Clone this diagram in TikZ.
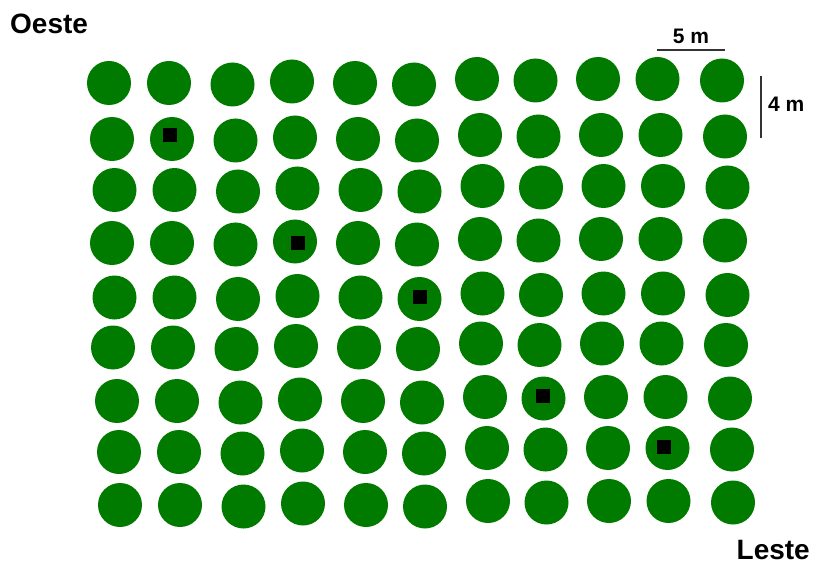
\documentclass[tikz,border=0pt]{standalone}
\usepackage{fontspec}
\setmainfont{Liberation Sans}
\usepackage{xcolor}
\definecolor{treegreen}{RGB}{0,123,0}

\begin{document}
\begin{tikzpicture}[x=1pt,y=-1pt,
  tree/.style={circle,fill=treegreen,minimum size=44pt,inner sep=0pt},
  plot/.style={fill=black,minimum size=14pt,inner sep=0pt},
  side/.style={inner sep=0pt,font=\fontsize{28}{28}\selectfont\bfseries},
  barlabel/.style={inner sep=0pt,font=\fontsize{21}{21}\selectfont\bfseries}]
\useasboundingbox (0,0) rectangle (814,564);
% trees, row by row
\foreach \r/\dx/\y in {1/0/83,2/3/139,3/5.5/190,4/3/243,5/5.5/297.5,6/4/347.5,7/8/401,8/10/452,9/11/505}
  \foreach \c/\x/\dy in {1/109/0,2/169/0,3/232.5/1.5,4/292/-1.5,5/355/0,6/414/1.5,7/477/-4,8/535.5/-2.5,9/598/-4,10/657.5/-4,11/722/-2.5}
    \node[tree] (t\r-\c) at (\x+\dx,\y+\dy) {};
% marked trees
\node[plot] (p1) at (170,135.5) {};
\node[plot] (p2) at (298,242.7) {};
\node[plot] (p3) at (420,296.8) {};
\node[plot] (p4) at (542.5,395.5) {};
\node[plot] (p5) at (664,446.8) {};
% directions
\node[side,anchor=base west] (oeste) at (10,33.5) {Oeste};
\node[side,anchor=base east] (leste) at (810,559) {Leste};
% scale bars
\coordinate (h1) at (657,50);
\coordinate (h2) at (725,50);
\draw[line width=1.3pt,black!80] (h1) -- (h2);
\node[barlabel,anchor=base] (five) at (691,43.3) {5 m};
\coordinate (v1) at (761,76);
\coordinate (v2) at (761,138);
\draw[line width=1.3pt,black!80] (v1) -- (v2);
\node[barlabel,anchor=base west] (four) at (768,111.7) {4 m};
\end{tikzpicture}
\end{document}
